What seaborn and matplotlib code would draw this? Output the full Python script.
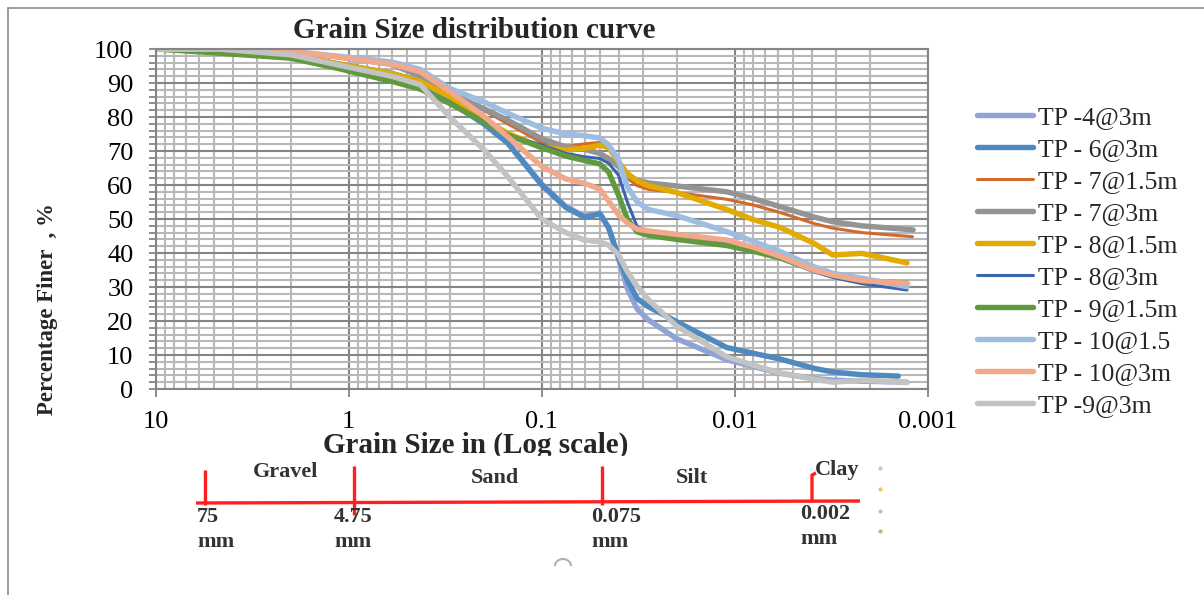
import matplotlib
matplotlib.use("Agg")
import matplotlib.pyplot as plt
import seaborn as sns
from matplotlib.patches import Rectangle, Arc
from matplotlib.ticker import FixedLocator, NullFormatter, FuncFormatter

sns.set_theme(style="white")
plt.rcParams["font.family"] = ["Liberation Serif", "DejaVu Serif"]

# Sieve + hydrometer grain sizes (mm) shared by all samples
size_mm = [10, 4.75, 2, 1.18, 0.6, 0.425, 0.3, 0.2, 0.15, 0.1, 0.075, 0.06,
           0.05, 0.045, 0.04, 0.036, 0.032, 0.028, 0.02, 0.011, 0.008,
           0.0058, 0.0039, 0.0031, 0.0022]

samples = ["TP -4@3m", "TP - 6@3m", "TP - 7@1.5m", "TP - 7@3m", "TP - 8@1.5m",
           "TP - 8@3m", "TP - 9@1.5m", "TP - 10@1.5", "TP - 10@3m", "TP -9@3m"]

# finest hydrometer reading of each sample (mm)
end_mm = [0.00128, 0.00142, 0.0012, 0.00119, 0.00128,
          0.00128, 0.00128, 0.00128, 0.00128, 0.00128]

tp4_3m = [100, 99.7, 98.3, 95.8, 92.8, 90.4, 84.8, 78.3, 72.6, 60.3, 53.7, 50.8, 51.8,
          47.3, 38.3, 29.5, 23.5, 20.3, 14.8, 8.6, 6.6, 4.6, 3.1, 2.6, 2.3, 2.0]
tp6_3m = [100, 99.7, 98.3, 95.8, 92.8, 90.4, 84.5, 78.0, 72.3, 60.0, 53.4, 50.5, 51.5,
          47.5, 38.9, 32.0, 26.6, 24.2, 19.8, 12.2, 10.5, 8.8, 6.1, 5.0, 4.2, 3.8]
tp7_15m = [100, 100, 99.2, 97.8, 95.5, 92.0, 87.0, 82.0, 78.0, 72.5, 71.3, 72.1, 72.5,
           71.1, 66.4, 62.0, 59.8, 58.7, 57.8, 55.8, 54.1, 51.9, 48.7, 47.3, 46.0, 44.8]
tp7_3m = [100, 100, 99.2, 97.8, 95.5, 92.0, 87.0, 82.5, 79.1, 73.6, 71.2, 70.5, 69.3,
          67.8, 65.4, 62.9, 61.4, 60.6, 59.7, 58.0, 56.0, 53.6, 50.6, 49.2, 48.0, 46.8]
tp8_15m = [100, 99.7, 98.3, 95.8, 92.8, 90.4, 86.0, 79.3, 75.2, 71.0, 70.3, 70.8, 71.7,
           71.0, 66.8, 63.4, 61.2, 59.8, 57.8, 52.8, 49.8, 47.5, 42.9, 39.4, 39.9, 37.1]
tp8_3m = [100, 98.8, 97.3, 94.5, 90.5, 88.2, 84.5, 78.6, 74.7, 71.8, 69.3, 68.3, 67.8,
          66.4, 62.9, 55.0, 47.7, 46.3, 44.5, 43.0, 41.0, 38.5, 34.5, 32.8, 31.0, 29.1]
tp9_15m = [100, 98.8, 97.3, 94.5, 90.5, 88.2, 84.0, 78.6, 74.7, 71.0, 68.5, 67.2, 66.2,
           63.8, 57.0, 50.0, 46.2, 45.2, 44.0, 42.2, 40.5, 38.5, 35.0, 33.5, 31.9, 31.1]
tp10_15m = [100, 100, 99.3, 98.0, 96.2, 94.0, 88.4, 84.5, 81.1, 76.7, 75.0, 74.5, 73.8,
            71.8, 67.4, 59.5, 55.0, 52.8, 51.0, 46.3, 43.4, 40.4, 36.0, 34.0, 32.6, 30.1]
tp10_3m = [100, 100, 99.2, 97.8, 95.5, 93.3, 87.5, 80.3, 74.2, 65.5, 61.8, 60.5, 58.8,
           55.3, 51.2, 48.8, 47.0, 46.5, 45.5, 43.8, 41.7, 39.0, 35.0, 33.5, 31.9, 31.1]
tp9_3m = [100, 100, 98.3, 95.5, 92.0, 89.5, 80.0, 70.5, 62.5, 50.0, 46.0, 43.8, 43.3,
          42.3, 39.5, 34.5, 30.2, 26.3, 18.5, 9.5, 7.0, 4.7, 2.9, 2.0, 2.6, 1.9]

percent_finer = [tp4_3m, tp6_3m, tp7_15m, tp7_3m, tp8_15m,
                 tp8_3m, tp9_15m, tp10_15m, tp10_3m, tp9_3m]

colors = ["#8FA3D6", "#4E8AC0", "#D3692A", "#949494", "#E3AA00",
          "#3C65AE", "#619A3E", "#9DBDE2", "#F1A88B", "#C3C3C3"]
widths = [3.9, 3.9, 2.2, 3.9, 3.9, 2.2, 3.9, 3.9, 3.9, 3.9]

y_ticks = list(range(0, 101, 10))
x_ticks = [10, 1, 0.1, 0.01, 0.001]

W, H = 1204, 595
fig = plt.figure(figsize=(W / 100, H / 100), dpi=100)
ax = fig.add_axes([155.7 / W, 1 - 389 / H, 772 / W, 340 / H])

ax.set_xscale("log")
for name, vals, end, col, lw in zip(samples, percent_finer, end_mm, colors, widths):
    sns.lineplot(x=size_mm + [end], y=vals, ax=ax, color=col, linewidth=lw,
                 label=name, errorbar=None, sort=False,
                 solid_capstyle="round", solid_joinstyle="round")
if ax.get_legend() is not None:
    ax.get_legend().remove()

ax.set_xlim(10, 0.001)
ax.set_ylim(0, 100)

ax.xaxis.set_major_locator(FixedLocator(x_ticks))
ax.xaxis.set_minor_locator(FixedLocator(
    [k * 10.0 ** e for e in range(-3, 1) for k in range(2, 10)]))
ax.xaxis.set_major_formatter(FuncFormatter(lambda v, p: f"{v:g}"))
ax.xaxis.set_minor_formatter(NullFormatter())
ax.yaxis.set_major_locator(FixedLocator(y_ticks))
ax.yaxis.set_minor_locator(FixedLocator(list(range(0, 101, 2))))
ax.yaxis.set_minor_formatter(NullFormatter())

grid_major = "#858585"
grid_minor = "#b8b8b8"
ax.set_axisbelow(True)
ax.grid(which="minor", color=grid_minor, linewidth=1.5)
ax.grid(which="major", color=grid_major, linewidth=1.5)
for sp in ax.spines.values():
    sp.set_color(grid_major)
    sp.set_linewidth(1.5)
    sp.set_visible(True)

ax.tick_params(axis="y", which="both", direction="out", length=5, width=1.3,
               color=grid_major, left=True, pad=11, labelsize=19, labelcolor="black")
ax.tick_params(axis="x", which="major", direction="out", length=6, width=1.3,
               color=grid_major, bottom=True, pad=10, labelsize=19, labelcolor="black")
ax.tick_params(axis="x", which="minor", length=0)

ax.set_ylabel("Percentage Finer  , %", fontsize=16.5, fontweight="bold", va="center")
ax.yaxis.set_label_coords((48 - 155.7) / 772, (389 - 309) / 340)
ax.set_xlabel("Grain Size in (Log scale)", fontsize=21, fontweight="bold", va="center")
ax.xaxis.set_label_coords((476 - 155.7) / 772, (389 - 445) / 340)

fig.text(474 / W, 1 - 30 / H, "Grain Size distribution curve", ha="center",
         va="center", fontsize=21, fontweight="bold")

handles, labels = ax.get_legend_handles_labels()
fig.legend(handles, labels, loc="upper left", bbox_to_anchor=(977 / W, 1 - 105.8 / H),
           frameon=False, fontsize=18.5, handlelength=2.18, handletextpad=0.2,
           labelspacing=0.35, borderpad=0, borderaxespad=0)

# Soil classification bar under the chart, in pixel coordinates
ov = fig.add_axes([0, 0, 1, 1], zorder=5)
ov.set_xlim(0, W)
ov.set_ylim(H, 0)
ov.axis("off")
ov.patch.set_alpha(0)

ov.add_patch(Rectangle((300, 456), 370, 12, color="white", zorder=1))
red = "#ff1f1f"
ov.plot([196, 860], [503, 501], color=red, lw=2.4, zorder=2, solid_capstyle="butt")
for x, y0, y1 in [(205, 470, 505), (354, 466, 515), (602, 466, 505)]:
    ov.plot([x, x], [y0, y1], color=red, lw=2.4, zorder=2, solid_capstyle="butt")
ov.plot([812, 812, 816], [502, 475, 473], color=red, lw=2.4, zorder=2,
        solid_capstyle="butt")

zone_kw = dict(fontsize=16, fontweight="bold", color="#333333", ha="center",
               va="center", zorder=3)
ov.text(286, 472, "Gravel", **zone_kw)
ov.text(495, 478, "Sand", **zone_kw)
ov.text(692, 478, "Silt", **zone_kw)
ov.text(837, 470, "Clay", **zone_kw)

lim_kw = dict(fontsize=16, fontweight="bold", color="#333333", ha="left",
              va="center", zorder=3)
for x, lab, ylab in [(197, "75", 517), (334, "4.75", 517), (591, "0.075", 517),
                     (800, "0.002", 514)]:
    ov.text(x, ylab, lab, **lim_kw)
    ov.text(x, ylab + 25, "mm", **lim_kw)

ov.add_patch(Arc((563, 566), 16, 14, theta1=180, theta2=360, color="#b0b0b0",
                 lw=1.5, zorder=2))
for yy, cc in [(468, "#c8c8c8"), (489, "#f2c94c"), (511, "#a9c4e6"), (531, "#9cc77f")]:
    ov.plot([880], [yy], marker="o", ms=2, color=cc, zorder=2)

# outer frame of the figure
ov.plot([8, W], [8, 8], color="#8c8c8c", lw=1.2, zorder=2)
ov.plot([8, 8], [8, H], color="#8c8c8c", lw=1.2, zorder=2)

fig.savefig("out.png", dpi=100, facecolor="white")
